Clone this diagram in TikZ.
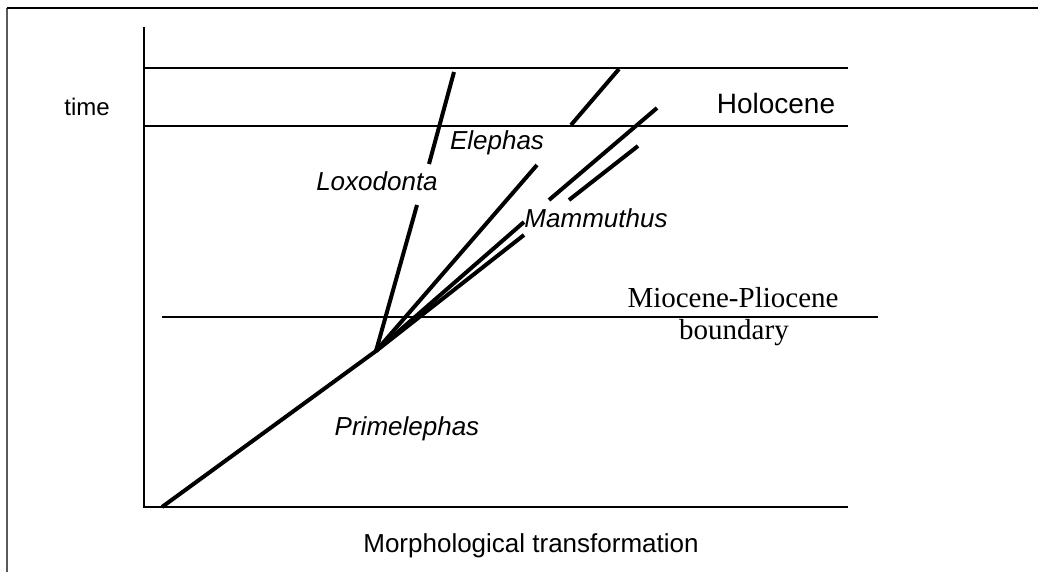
\documentclass[tikz,border=0pt]{standalone}
\usepackage{fontspec}
\setmainfont{Liberation Sans}
\newfontfamily\eraserif{Liberation Serif}
\usetikzlibrary{calc}
\tikzstyle{frame} = [line width=1.4pt]
\tikzstyle{axis} = [line width=1.5pt]
\tikzstyle{era} = [line width=1.3pt]
\tikzstyle{branch} = [line width=4pt]
\tikzstyle{taxon} = [anchor=base, inner sep=0pt, font=\fontsize{26}{30}\selectfont\itshape]
\tikzstyle{epoch} = [anchor=base, inner sep=0pt, font=\fontsize{28}{32}\selectfont]
\tikzstyle{boundarytext} = [anchor=base, inner sep=0pt, font=\fontsize{29}{33}\selectfont\eraserif]

\begin{document}
\begin{tikzpicture}[x=1pt, y=-1pt]
\useasboundingbox (0,0) rectangle (1038,572);

% Frame
\draw[frame, black!65] (7,572) -- (7,8);
\draw[frame] (7,8) -- (1038,8);

% Axes and time lines
\coordinate (origin) at (144,507);
\coordinate (ytop) at (144,27);
\coordinate (xend) at (848,507);
\draw[axis] (ytop) -- (origin) -- (xend);
\coordinate (topL) at (144,68);
\coordinate (topR) at (848,68);
\coordinate (holoL) at (144,126);
\coordinate (holoR) at (848,126);
\coordinate (mioL) at (162,317);
\coordinate (mioR) at (878,317);
\draw[era] (topL) -- (topR);
\draw[era] (holoL) -- (holoR);
\draw[era] (mioL) -- (mioR);

% Branches
\coordinate (start) at (162,507);
\coordinate (root) at (376,351);
\coordinate (loxA) at (417,205);
\coordinate (loxB) at (429,164);
\coordinate (loxC) at (454,72);
\coordinate (eleA) at (537,165);
\coordinate (eleB) at (571,125);
\coordinate (eleC) at (619,69);
\coordinate (mamA) at (524,222);
\coordinate (mamB) at (549,200);
\coordinate (mamC) at (657,108);
\coordinate (mamD) at (524,235);
\coordinate (mamE) at (569,200);
\coordinate (mamF) at (638,146);
\draw[branch] (start) -- (root);
\draw[branch] (root) -- (loxA);
\draw[branch] (loxB) -- (loxC);
\draw[branch] (root) -- (eleA);
\draw[branch] (eleB) -- (eleC);
\draw[branch] (root) -- (mamA);
\draw[branch] (mamB) -- (mamC);
\draw[branch] (root) -- (mamD);
\draw[branch] (mamE) -- (mamF);

% Labels
\node (time) [anchor=base, inner sep=0pt, font=\fontsize{24}{28}\selectfont] at (87,116) {time};
\node (holocene) [epoch] at (776,114) {Holocene};
\node (elephas) [taxon] at (497,150) {Elephas};
\node (loxodonta) [taxon] at (377,190) {Loxodonta};
\node (mammuthus) [taxon] at (596,227) {Mammuthus};
\node (primelephas) [taxon] at (407,435) {Primelephas};
\node (miopli) [boundarytext] at (733,307) {Miocene-Pliocene};
\node (boundary) [boundarytext] at (734,339) {boundary};
\node (morph) [anchor=base, inner sep=0pt, font=\fontsize{26}{30}\selectfont] at (531,552) {Morphological transformation};

\end{tikzpicture}
\end{document}
